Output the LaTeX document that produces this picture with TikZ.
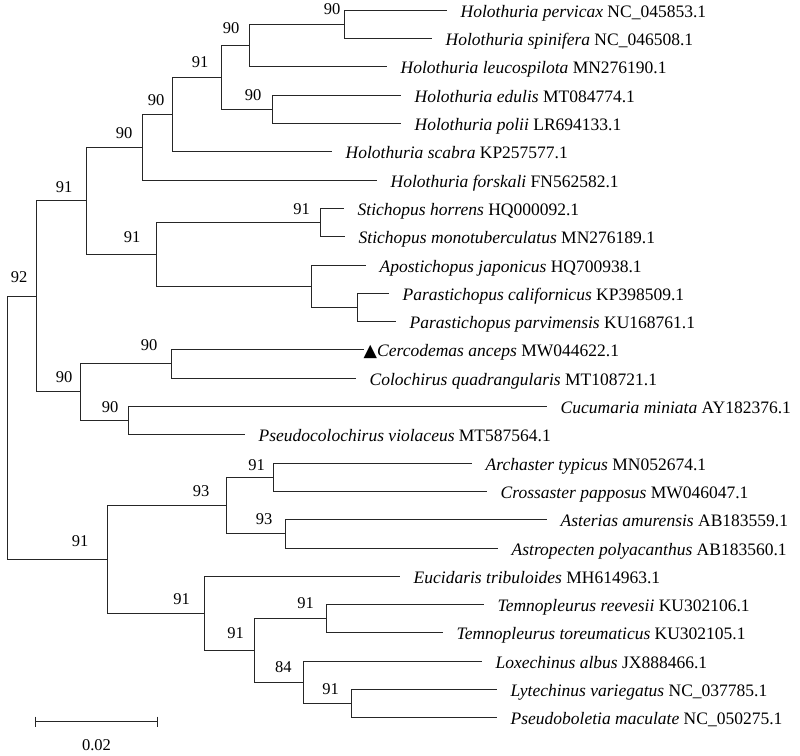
\documentclass[tikz,border=0pt]{standalone}
\usepackage{fontspec}
\setmainfont{Liberation Serif}
\newfontfamily\symfont{DejaVu Sans}
\begin{document}
\begin{tikzpicture}[x=1pt,y=-1pt,
  br/.style={draw=black!85, line width=1.4pt},
  leaf/.style={anchor=base west, inner sep=0pt, font=\fontsize{17.5}{20}\selectfont},
  bs/.style={inner sep=0pt, font=\fontsize{16.5}{18}\selectfont}]
\useasboundingbox (0,0) rectangle (800,755);
% leaf end points
\coordinate (e0) at (446.5,10.5);
\coordinate (e1) at (431.5,38.5);
\coordinate (e2) at (386.5,66.5);
\coordinate (e3) at (400.5,95.5);
\coordinate (e4) at (400.5,123.5);
\coordinate (e5) at (331.5,151.5);
\coordinate (e6) at (376.5,180.5);
\coordinate (e7) at (343.5,208.5);
\coordinate (e8) at (344.5,236.5);
\coordinate (e9) at (365.5,265.5);
\coordinate (e10) at (388.5,293.5);
\coordinate (e11) at (395.5,321.5);
\coordinate (e12) at (363.5,349.5);
\coordinate (e13) at (355.5,378.5);
\coordinate (e14) at (546.5,406.5);
\coordinate (e15) at (244.5,434.5);
\coordinate (e16) at (471.5,463.5);
\coordinate (e17) at (486.5,491.5);
\coordinate (e18) at (546.5,519.5);
\coordinate (e19) at (497.5,548.5);
\coordinate (e20) at (399.5,576.5);
\coordinate (e21) at (483.5,604.5);
\coordinate (e22) at (442.5,632.5);
\coordinate (e23) at (481.5,661.5);
\coordinate (e24) at (496.5,689.5);
\coordinate (e25) at (496.5,717.5);
% internal nodes
\coordinate (nG) at (344.5,24.5);
\coordinate (nF) at (249.5,45.5);
\coordinate (nH) at (272.5,109.5);
\coordinate (nE) at (221.5,77.5);
\coordinate (nD) at (172.5,114.5);
\coordinate (nC) at (142.5,147.5);
\coordinate (nJ) at (320.5,222.5);
\coordinate (nL) at (357.5,307.5);
\coordinate (nK) at (311.5,286.5);
\coordinate (nI) at (156.5,254.5);
\coordinate (nB) at (86.5,200.5);
\coordinate (nN) at (171.5,363.5);
\coordinate (nO) at (128.5,420.5);
\coordinate (nM) at (80.5,391.5);
\coordinate (nA) at (36.5,296.5);
\coordinate (nR) at (273.5,477.5);
\coordinate (nS) at (285.5,533.5);
\coordinate (nQ) at (226.5,505.5);
\coordinate (nV) at (326.5,618.5);
\coordinate (nX) at (351.5,703.5);
\coordinate (nW) at (303.5,682.5);
\coordinate (nU) at (254.5,650.5);
\coordinate (nT) at (204.5,613.5);
\coordinate (nP) at (107.5,559.5);
\coordinate (root) at (7.5,428);
% branches: each internal node joins its two children in one path
\foreach \a/\p/\b in {e0/nG/e1, nG/nF/e2, e3/nH/e4, nF/nE/nH, nE/nD/e5, nD/nC/e6,
  e7/nJ/e8, e10/nL/e11, e9/nK/nL, nJ/nI/nK, nC/nB/nI,
  e12/nN/e13, e14/nO/e15, nN/nM/nO, nB/nA/nM,
  e16/nR/e17, e18/nS/e19, nR/nQ/nS, e21/nV/e22, e24/nX/e25, e23/nW/nX,
  nV/nU/nW, e20/nT/nU, nQ/nP/nT, nA/root/nP}
  \draw[br] (\a) -| (\p) |- (\b);
% leaf labels
\node[leaf] (t0) at ([shift={(14,6.5)}]e0) {\textit{Holothuria pervicax} NC\_045853.1};
\node[leaf] (t1) at ([shift={(14,6.5)}]e1) {\textit{Holothuria spinifera} NC\_046508.1};
\node[leaf] (t2) at ([shift={(14,6.5)}]e2) {\textit{Holothuria leucospilota} MN276190.1};
\node[leaf] (t3) at ([shift={(14,6.5)}]e3) {\textit{Holothuria edulis} MT084774.1};
\node[leaf] (t4) at ([shift={(14,6.5)}]e4) {\textit{Holothuria polii} LR694133.1};
\node[leaf] (t5) at ([shift={(14,6.5)}]e5) {\textit{Holothuria scabra} KP257577.1};
\node[leaf] (t6) at ([shift={(14,6.5)}]e6) {\textit{Holothuria forskali} FN562582.1};
\node[leaf] (t7) at ([shift={(14,6.5)}]e7) {\textit{Stichopus horrens} HQ000092.1};
\node[leaf] (t8) at ([shift={(14,6.5)}]e8) {\textit{Stichopus monotuberculatus} MN276189.1};
\node[leaf] (t9) at ([shift={(14,6.5)}]e9) {\textit{Apostichopus japonicus} HQ700938.1};
\node[leaf] (t10) at ([shift={(14,6.5)}]e10) {\textit{Parastichopus californicus} KP398509.1};
\node[leaf] (t11) at ([shift={(14,6.5)}]e11) {\textit{Parastichopus parvimensis} KU168761.1};
\node[leaf] (t12) at ([shift={(0,6.5)}]e12) {{\symfont ▲}\textit{Cercodemas anceps} MW044622.1};
\node[leaf] (t13) at ([shift={(14,6.5)}]e13) {\textit{Colochirus quadrangularis} MT108721.1};
\node[leaf] (t14) at ([shift={(14,6.5)}]e14) {\textit{Cucumaria miniata} AY182376.1};
\node[leaf] (t15) at ([shift={(14,6.5)}]e15) {\textit{Pseudocolochirus violaceus} MT587564.1};
\node[leaf] (t16) at ([shift={(14,6.5)}]e16) {\textit{Archaster typicus} MN052674.1};
\node[leaf] (t17) at ([shift={(14,6.5)}]e17) {\textit{Crossaster papposus} MW046047.1};
\node[leaf] (t18) at ([shift={(14,6.5)}]e18) {\textit{Asterias amurensis} AB183559.1};
\node[leaf] (t19) at ([shift={(14,6.5)}]e19) {\textit{Astropecten polyacanthus} AB183560.1};
\node[leaf] (t20) at ([shift={(14,6.5)}]e20) {\textit{Eucidaris tribuloides} MH614963.1};
\node[leaf] (t21) at ([shift={(14,6.5)}]e21) {\textit{Temnopleurus reevesii} KU302106.1};
\node[leaf] (t22) at ([shift={(14,6.5)}]e22) {\textit{Temnopleurus toreumaticus} KU302105.1};
\node[leaf] (t23) at ([shift={(14,6.5)}]e23) {\textit{Loxechinus albus} JX888466.1};
\node[leaf] (t24) at ([shift={(14,6.5)}]e24) {\textit{Lytechinus variegatus} NC\_037785.1};
\node[leaf] (t25) at ([shift={(14,6.5)}]e25) {\textit{Pseudoboletia maculate} NC\_050275.1};
% bootstrap values
\node[bs] (bG) at (332,9) {90};
\node[bs] (bF) at (231,28.3) {90};
\node[bs] (bE) at (200,62.3) {91};
\node[bs] (bD) at (156,100) {90};
\node[bs] (bC) at (124,133) {90};
\node[bs] (bB) at (64,186.7) {91};
\node[bs] (bH) at (253,95) {90};
\node[bs] (bJ) at (301.7,209.3) {91};
\node[bs] (bI) at (132,237) {91};
\node[bs] (bA) at (19,276.7) {92};
\node[bs] (bN) at (149,345) {90};
\node[bs] (bM) at (64,377.3) {90};
\node[bs] (bO) at (110,406.7) {90};
\node[bs] (bR) at (256.7,465) {91};
\node[bs] (bQ) at (201,491) {93};
\node[bs] (bS) at (264,519) {93};
\node[bs] (bP) at (80,541) {91};
\node[bs] (bT) at (181.7,599.3) {91};
\node[bs] (bV) at (305.7,603.3) {91};
\node[bs] (bU) at (235.7,633.3) {91};
\node[bs] (bW) at (283.3,667.3) {84};
\node[bs] (bX) at (330.7,689.3) {91};
% scale bar
\coordinate (sb1) at (35.5,721.5);
\coordinate (sb2) at (157.5,721.5);
\draw[br] (sb1) -- (sb2);
\draw[br] ([shift={(0,-5)}]sb1) -- ([shift={(0,5)}]sb1);
\draw[br] ([shift={(0,-5)}]sb2) -- ([shift={(0,5)}]sb2);
\node[bs] (sbl) at (96.5,745) {0.02};
\end{tikzpicture}
\end{document}
